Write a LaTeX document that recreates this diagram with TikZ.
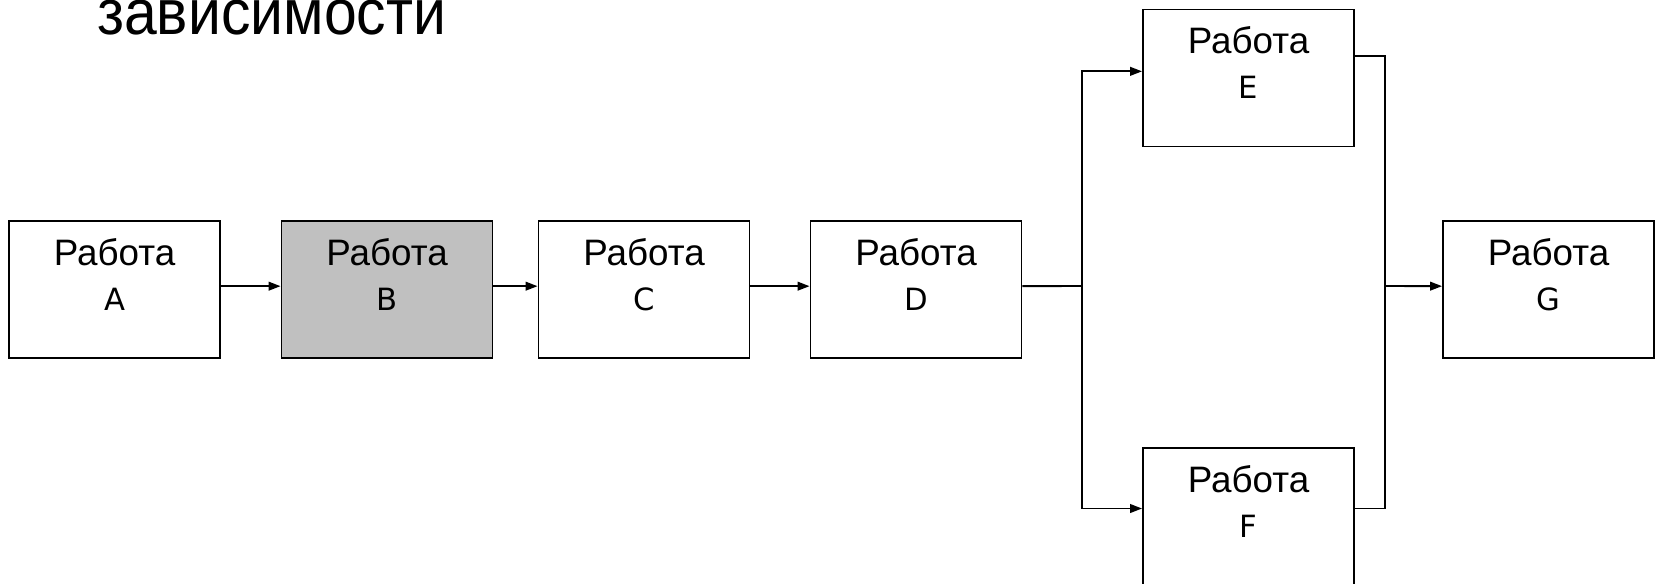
\documentclass[tikz,border=0pt]{standalone}
\usepackage{fontspec}
\setmainfont{Liberation Sans}
\newfontfamily\letterfont{DejaVu Sans}
\usetikzlibrary{arrows.meta,calc}
\definecolor{boxgray}{HTML}{C0C0C0}
\tikzset{
  box/.style={draw=black, line width=1.4pt, fill=white, minimum width=158.25pt, minimum height=102.75pt, inner sep=0pt},
  work/.style={anchor=base, inner sep=0pt, font=\fontsize{27.6pt}{28pt}\selectfont},
  letter/.style={anchor=base, inner sep=0pt, font=\letterfont\fontsize{23pt}{24pt}\selectfont},
  conn/.style={line width=1.4pt},
  arr/.style={line width=1.4pt, -{Triangle[length=9pt,width=6.5pt]}},
}
\begin{document}
\begin{tikzpicture}[x=0.75pt,y=-0.75pt]
\useasboundingbox (0,0) rectangle (1655,583);
\fill[white] (0,0) rectangle (1655,583);
% title
\node[anchor=base west, inner sep=0pt, font=\fontsize{48pt}{50pt}\selectfont] (title) at (97,34) {\scalebox{0.92}[1]{зависимости}};
% boxes
\node[box] (A) at (114.5,289.5) {};
\node[box, fill=boxgray] (B) at (387,289.5) {};
\node[box] (C) at (644,289.5) {};
\node[box] (D) at (916,289.5) {};
\node[box] (E) at (1248.5,78) {};
\node[box] (F) at (1248.5,516.5) {};
\node[box] (G) at (1548.5,289.5) {};
% labels
\foreach \n/\l in {A/A,B/B,C/C,D/D,E/E,F/F,G/G}{
  \node[work] (\n w) at ($(\n.north)+(0,45)$) {Работа};
  \node[letter] (\n l) at ($(\n.north)+(0,90)$) {\l};
}
% connectors
\coordinate (jD) at (1082,286);
\coordinate (jG) at (1385,286);
\draw[arr] ([yshift=2.5pt]A.east) -- ([yshift=2.5pt]B.west);
\draw[arr] ([yshift=2.5pt]B.east) -- ([yshift=2.5pt]C.west);
\draw[arr] ([yshift=2.5pt]C.east) -- ([yshift=2.5pt]D.west);
\draw[conn] ([yshift=2.5pt]D.east) -- (jD);
\draw[arr] (jD) |- ([yshift=5pt]E.west);
\draw[arr] (jD) |- ([yshift=6pt]F.west);
\draw[conn] ([yshift=16.5pt]E.east) -| (jG);
\draw[conn] ([yshift=6pt]F.east) -| (jG);
\draw[arr] (jG) -- ([yshift=2.5pt]G.west);
\end{tikzpicture}
\end{document}
